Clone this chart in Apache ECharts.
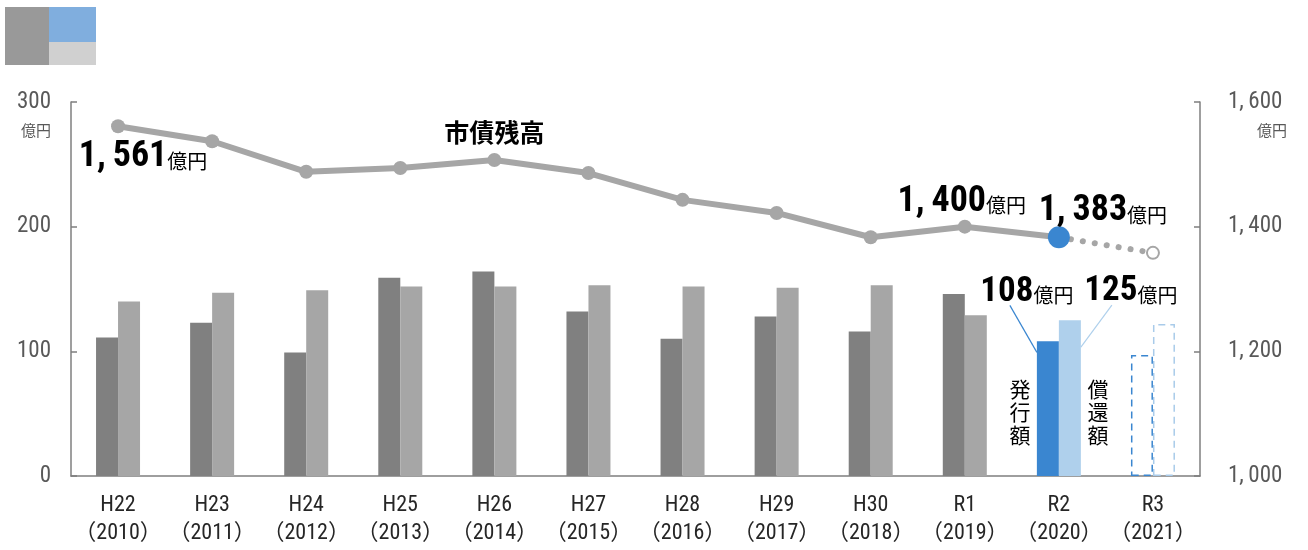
<!DOCTYPE html>
<html><head><meta charset="utf-8">
<script src="https://cdn.jsdelivr.net/npm/echarts@6/dist/echarts.min.js"></script>
<style>html,body{margin:0;padding:0;background:#fff}#c{width:1308px;height:550px}</style>
</head><body><div id="c"></div>
<script>
const categories = ['H22\n（2010）','H23\n（2011）','H24\n（2012）','H25\n（2013）','H26\n（2014）','H27\n（2015）','H28\n（2016）','H29\n（2017）','H30\n（2018）','R1\n（2019）','R2\n（2020）','R3\n（2021）'];
const issueValues = [111,123,99,159,164,132,110,128,116,146,108,97];
const redemptionValues = [140,147,149,152,152,153,152,151,153,129,125,122];
const balanceValues = [1561,1537,1488,1494,1507,1486,1443,1422,1383,1400,1383,1358];
const leftTicks = [0,100,200,300];
const rightTicks = [1000,1200,1400,1600];

const NUM = '"Roboto Condensed", "DejaVu Sans Condensed", "Liberation Sans Narrow", "Noto Sans CJK JP", sans-serif';
const CJK = '"Noto Sans CJK JP", sans-serif';
const chart = echarts.init(document.getElementById('c'));

const last = categories.length - 1;
const fmt = v => v.toLocaleString('en-US').replace(',', ',\u2009');
const issueData = issueValues.map((v,i)=>{
  if (i === last-1) return {value:v, itemStyle:{color:'#3a86d0'},
    label:{show:true, position:'top', offset:[-21,-27], formatter:'{n|'+v+'}{u|億円}',
      rich:{n:{fontSize:35,fontWeight:'bold',fontFamily:NUM,color:'#000'},u:{fontSize:20,fontFamily:CJK,color:'#000',padding:[7,0,0,0]}}}};
  if (i === last) return {value:v, itemStyle:{color:'rgba(0,0,0,0)',borderColor:'#3a86d0',borderType:[7,5],borderWidth:1.5}};
  return v;
});
const redData = redemptionValues.map((v,i)=>{
  if (i === last-1) return {value:v, itemStyle:{color:'#afd0ec'},
    label:{show:true, position:'top', offset:[61,-6], formatter:'{n|'+v+'}{u|億円}',
      rich:{n:{fontSize:35,fontWeight:'bold',fontFamily:NUM,color:'#000'},u:{fontSize:20,fontFamily:CJK,color:'#000',padding:[7,0,0,0]}}}};
  if (i === last) return {value:v, itemStyle:{color:'rgba(0,0,0,0)',borderColor:'#a9cbea',borderType:[7,5],borderWidth:1.5}};
  return v;
});
const richBig = {n:{fontSize:36,fontWeight:'bold',fontFamily:NUM,color:'#000'},u:{fontSize:20,fontFamily:CJK,color:'#000',padding:[8,0,0,0]}};
const solidData = balanceValues.map((v,i)=>{
  if (i === last) return null;
  const d = {value:v};
  if (i === 0) d.label = {show:true, position:'inside', offset:[25,31], formatter:'{n|'+fmt(v)+'}{u|億円}', rich:richBig};
  if (i === 9) d.label = {show:true, position:'inside', offset:[-3,-25], formatter:'{n|'+fmt(v)+'}{u|億円}', rich:richBig};
  if (i === 10) { d.symbolSize = 22; d.itemStyle = {color:'#3a86d0'};
    d.label = {show:true, position:'inside', offset:[44,-26], formatter:'{n|'+fmt(v)+'}{u|億円}', rich:richBig}; }
  return d;
});
const dotData = balanceValues.map((v,i)=> i === last-1 ? {value:v, symbol:'none'} : (i === last ? v : null));

const option = {
  animation:false,
  grid:{left:71, right:108, top:102, bottom:74},
  xAxis:{type:'category', data:categories,
    axisLine:{lineStyle:{color:'#7f7f7f',width:1.5}}, axisTick:{show:false},
    axisLabel:{fontSize:22, fontFamily:NUM, color:'#262626', lineHeight:28, margin:15, interval:0}},
  yAxis:[
    {type:'value', min:leftTicks[0], max:leftTicks[leftTicks.length-1], interval:100, splitLine:{show:false},
      axisLine:{show:true, lineStyle:{color:'#7f7f7f',width:1.5}}, axisTick:{show:true, inside:true, length:6, lineStyle:{color:'#7f7f7f',width:1.5}},
      axisLabel:{fontSize:23, fontFamily:NUM, color:'#595959', margin:20}},
    {type:'value', min:rightTicks[0], max:rightTicks[rightTicks.length-1], interval:200, splitLine:{show:false},
      axisLine:{show:true, lineStyle:{color:'#7f7f7f',width:1.5}}, axisTick:{show:true, inside:true, length:6, lineStyle:{color:'#7f7f7f',width:1.5}},
      axisLabel:{fontSize:23, fontFamily:NUM, color:'#595959', margin:28, formatter:v=>fmt(v)}}
  ],
  series:[
    {type:'bar', data:issueData, barWidth:22, barGap:'0%', itemStyle:{color:'#808080'}, z:2},
    {type:'bar', data:redData, barWidth:22, barGap:'0%', itemStyle:{color:'#a6a6a6'}, z:2},
    {type:'line', yAxisIndex:1, data:solidData, symbol:'circle', symbolSize:14, itemStyle:{color:'#a6a6a6'},
      lineStyle:{color:'#a6a6a6', width:6}, z:5},
    {type:'line', yAxisIndex:1, data:dotData, symbol:'emptyCircle', symbolSize:12, showSymbol:true,
      itemStyle:{color:'#a6a6a6', borderColor:'#a6a6a6', borderWidth:2},
      lineStyle:{color:'#a6a6a6', width:6, type:[0.1,12], cap:'round'}, z:4}
  ]
};
chart.setOption(option);

const r2 = last-1;
const pIssue = chart.convertToPixel({xAxisIndex:0,yAxisIndex:0},[r2, issueValues[r2]]);
const pRed = chart.convertToPixel({xAxisIndex:0,yAxisIndex:0},[r2, redemptionValues[r2]]);
const cx = pIssue[0];
const top0 = chart.convertToPixel({xAxisIndex:0,yAxisIndex:0},[0, leftTicks[leftTicks.length-1]]);
const midBal = chart.convertToPixel({xAxisIndex:0,yAxisIndex:1},[4, balanceValues[4]]);
const unitStyle = {fontSize:15, fontFamily:CJK, fill:'#595959'};
chart.setOption({graphic:[
  {type:'rect', shape:{x:5,y:7,width:44,height:58}, style:{fill:'#999999'}},
  {type:'rect', shape:{x:49,y:7,width:47,height:35}, style:{fill:'#80aede'}},
  {type:'rect', shape:{x:49,y:42,width:47,height:23}, style:{fill:'#d0d0d0'}},
  {type:'text', x:51, y:top0[1]+28, style:Object.assign({text:'億円', align:'right', verticalAlign:'middle'}, unitStyle)},
  {type:'text', x:1257, y:top0[1]+28, style:Object.assign({text:'億円', align:'left', verticalAlign:'middle'}, unitStyle)},
  {type:'text', x:midBal[0], y:midBal[1]-27, style:{text:'市債残高', fontSize:25, fontWeight:'bold', fontFamily:CJK, fill:'#000', align:'center', verticalAlign:'middle'}},
  {type:'line', shape:{x1:cx-22-27, y1:pIssue[1]-36, x2:cx-22, y2:pIssue[1]+11}, style:{stroke:'#3a86d0', lineWidth:1.2}},
  {type:'line', shape:{x1:cx+22+31, y1:pRed[1]-15, x2:cx+22, y2:pRed[1]+27}, style:{stroke:'#afd0ec', lineWidth:1.2}},
  {type:'text', x:cx-22-17, y:412, style:{text:'発\n行\n額', fontSize:21, lineHeight:23, fontFamily:CJK, fill:'#000', align:'center', verticalAlign:'middle'}},
  {type:'text', x:cx+22+17, y:412, style:{text:'償\n還\n額', fontSize:21, lineHeight:23, fontFamily:CJK, fill:'#000', align:'center', verticalAlign:'middle'}}
]});
</script></body></html>
